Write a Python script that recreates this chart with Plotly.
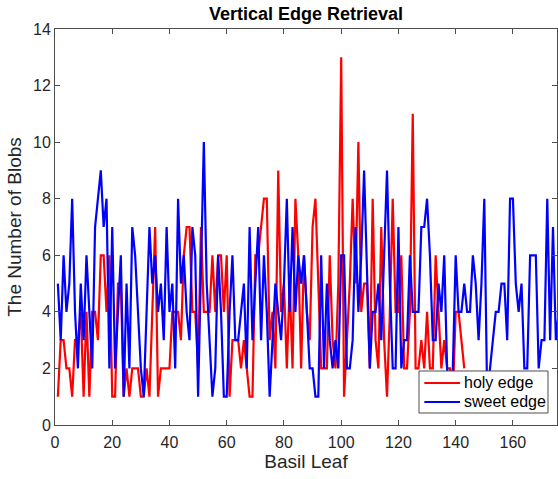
import plotly.graph_objects as go

# ---- data ----
sweet_edge = [5, 3, 6, 4, 5, 8, 4, 2, 5, 3, 6, 4, 2, 7, 8, 9, 7, 8, 2, 7,
              2, 4, 6, 1, 5, 2, 7, 6, 4, 2, 1, 4, 7, 5, 6, 4, 5, 3, 7, 4,
              5, 2, 8, 5, 6, 4, 3, 7, 6, 1, 5, 10, 5, 3, 1, 2, 6, 4, 1, 1,
              4, 6, 3, 3, 4, 5, 2, 7, 3, 5, 7, 3, 6, 4, 1, 3, 5, 4, 3, 5,
              8, 4, 7, 4, 6, 5, 6, 4, 2, 2, 1, 1, 6, 2, 5, 3, 2, 3, 2, 6,
              6, 2, 2, 3, 7, 4, 6, 9, 5, 2, 4, 4, 5, 3, 6, 9, 5, 2, 2, 7,
              2, 3, 3, 6, 4, 4, 4, 7, 7, 8, 6, 3, 3, 5, 4, 6, 2, 1, 2, 6,
              4, 4, 5, 4, 4, 6, 5, 3, 5, 8, 1, 2, 3, 4, 4, 5, 5, 3, 8, 8,
              5, 4, 5, 2, 2, 6, 6, 6, 2, 3, 3, 8, 3, 7, 3, 4]

holy_edge = [1, 3, 3, 2, 2, 1, 3, 3, 4, 1, 4, 1, 4, 4, 3, 6, 6, 4, 6, 1,
             1, 5, 5, 1, 2, 1, 2, 2, 2, 1, 1, 2, 1, 4, 7, 1, 2, 2, 2, 2,
             4, 4, 4, 3, 6, 7, 7, 4, 4, 2, 7, 4, 4, 4, 6, 4, 6, 6, 4, 6,
             1, 3, 3, 3, 2, 3, 2, 1, 1, 6, 6, 7, 8, 8, 3, 4, 2, 9, 4, 5,
             2, 5, 2, 8, 6, 2, 6, 4, 3, 7, 8, 5, 2, 2, 2, 6, 3, 2, 5, 13,
             1, 3, 5, 8, 5, 10, 4, 5, 5, 2, 8, 3, 2, 7, 3, 1, 4, 8, 4, 4,
             6, 2, 2, 4, 11, 2, 2, 3, 2, 4, 2, 2, 6, 4, 2, 3, 2, 2, 1, 4,
             4, 3, 2]

sweet_x = list(range(1, len(sweet_edge) + 1))
holy_x = list(range(1, len(holy_edge) + 1))

series_names = ["holy edge", "sweet edge"]
series_colors = ["#FF0000", "#0000FF"]

x_ticks = [0, 20, 40, 60, 80, 100, 120, 140, 160]
y_ticks = [0, 2, 4, 6, 8, 10, 12, 14]

title_text = "Vertical Edge Retrieval"
x_label = "Basil Leaf"
y_label = "The Number of Blobs"

# ---- figure ----
W, H = 558, 479
L, R, T, B = 55, 1, 29, 54
axis_col = "#262626"
frame_col = "#4d4d4d"
font_family = "Liberation Sans, Arial, Helvetica, sans-serif"

fig = go.Figure()
fig.add_trace(go.Scatter(x=holy_x, y=holy_edge, mode="lines", name=series_names[0],
                         line=dict(color=series_colors[0], width=2.2), showlegend=False))
fig.add_trace(go.Scatter(x=sweet_x, y=sweet_edge, mode="lines", name=series_names[1],
                         line=dict(color=series_colors[1], width=2.2), showlegend=False))

axis_common = dict(showline=True, mirror="ticks", linecolor=frame_col, linewidth=1,
                   ticks="inside", ticklen=5, tickwidth=1, tickcolor=frame_col,
                   showgrid=False, zeroline=False,
                   tickfont=dict(family=font_family, size=16, color=axis_col))

fig.update_xaxes(range=[0, 175.4], tickvals=x_ticks, ticklabelstandoff=3,
                 title=dict(text=x_label, font=dict(family=font_family, size=19, color=axis_col),
                            standoff=4),
                 **axis_common)
fig.update_yaxes(range=[0, 14], tickvals=y_ticks,
                 title=dict(text=y_label, font=dict(family=font_family, size=19, color=axis_col),
                            standoff=6),
                 **axis_common)

# legend box drawn in paper coordinates (MATLAB-style compact legend)
lx0, lx1, ly0, ly1 = 0.7251, 0.9821, 0.0303, 0.1364
fig.add_shape(type="rect", xref="paper", yref="paper", x0=lx0, x1=lx1, y0=ly0, y1=ly1,
              fillcolor="white", line=dict(color=frame_col, width=1), layer="above")
entry_y = [0.1061, 0.0581]
for name, col, ey in zip(series_names, series_colors, entry_y):
    fig.add_shape(type="line", xref="paper", yref="paper", x0=0.7357, x1=0.8068, y0=ey, y1=ey,
                  line=dict(color=col, width=2.2), layer="above")
    fig.add_annotation(xref="paper", yref="paper", x=0.8108, y=ey, text=name, showarrow=False,
                       xanchor="left", yanchor="middle",
                       font=dict(family=font_family, size=16, color="black"))

fig.update_layout(
    width=W, height=H,
    margin=dict(l=L, r=R, t=T, b=B, autoexpand=False),
    paper_bgcolor="white", plot_bgcolor="white",
    title=dict(text="<b>" + title_text + "</b>", x=(L + (W - L - R) / 2) / W, xanchor="center",
               y=1 - 14 / H, yanchor="middle",
               font=dict(family=font_family, size=18, color="black")),
    showlegend=False,
)

fig.write_html("out.html")
